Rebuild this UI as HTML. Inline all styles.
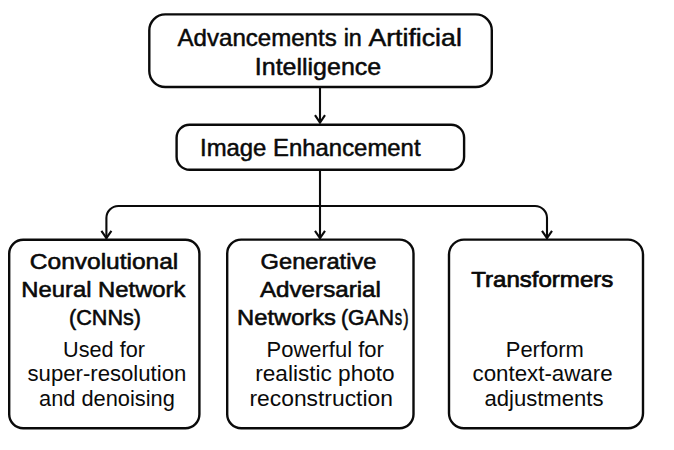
<!DOCTYPE html>
<html><head><meta charset="utf-8"><style>
html,body{margin:0;padding:0;background:#fff;width:674px;height:450px;overflow:hidden}
svg{display:block;position:absolute;left:0;top:0}
</style></head><body>
<svg width="674" height="450" viewBox="0 0 674 450">
<rect width="674" height="450" fill="#fff"/>
<g fill="none" stroke="#0a0a0a" stroke-width="2.4">
<rect x="149.3" y="14.4" width="342.5" height="72.6" rx="16"/>
<rect x="176.6" y="124.7" width="287.5" height="45.1" rx="13"/>
<rect x="9.2" y="239.8" width="190.2" height="188.4" rx="14"/>
<rect x="227.2" y="239.6" width="186.3" height="188.6" rx="14"/>
<rect x="449.0" y="239.6" width="194.0" height="188.6" rx="15"/>
</g>
<g fill="none" stroke="#0a0a0a" stroke-width="2.1" stroke-linecap="butt" stroke-linejoin="miter">
<path d="M320 87.5 V123"/>
<path d="M315 115.2 L320 122.6 L325 115.2"/>
<path d="M320 170.5 V238.5"/>
<path d="M315 230.8 L320 238.2 L325 230.8"/>
<path d="M106.4 238.5 V218 A12 12 0 0 1 118.4 206 H535 A12 12 0 0 1 547 218 V238.5"/>
<path d="M101.4 230.8 L106.4 238.2 L111.4 230.8"/>
<path d="M542 230.8 L547 238.2 L552 230.8"/>
</g>
<g font-family="Liberation Sans, sans-serif" fill="#0a0a0a" stroke="#0a0a0a" stroke-linejoin="round">
<text transform="translate(177.55 45.90) scale(1.0195 1)" font-size="23.6" stroke-width="0.5">Advancements</text>
<text transform="translate(343.66 45.90) scale(0.9915 1)" font-size="23.6" stroke-width="0.5">in</text>
<text transform="translate(368.38 45.90) scale(1.1314 1)" font-size="23.6" stroke-width="0.5">Artificial</text>
<text transform="translate(254.85 75.00) scale(1.0583 1)" font-size="23.6" stroke-width="0.5">Intelligence</text>
<text transform="translate(199.99 156.20) scale(1.0349 1)" font-size="23.1" stroke-width="0.5">Image Enhancement</text>
<text transform="translate(29.85 269.20) scale(1.0755 1)" font-size="22.8" stroke-width="0.6">Convolutional</text>
<text transform="translate(21.27 296.90) scale(1.0452 1)" font-size="22.8" stroke-width="0.6">Neural Network</text>
<text transform="translate(69.04 325.20) scale(0.9483 1)" font-size="22.8" stroke-width="0.6">(CNNs)</text>
<text transform="translate(63.03 356.70) scale(0.9721 1)" font-size="22.3" stroke-width="0.0">Used for</text>
<text transform="translate(27.50 381.40) scale(0.9938 1)" font-size="22.3" stroke-width="0.0">super-resolution</text>
<text transform="translate(39.00 405.90) scale(0.9792 1)" font-size="22.3" stroke-width="0.0">and denoising</text>
<text transform="translate(260.62 269.00) scale(1.0386 1)" font-size="22.8" stroke-width="0.6">Generative</text>
<text transform="translate(259.92 297.20) scale(1.0620 1)" font-size="22.8" stroke-width="0.6">Adversarial</text>
<text transform="translate(237.07 325.00) scale(1.0413 1)" font-size="22.8" stroke-width="0.6">Networks</text>
<text transform="translate(340.95 325.00) scale(0.9305 1)" font-size="22.8" stroke-width="0.6">(GAN</text>
<text transform="translate(394.69 325.00) scale(0.6466 1)" font-size="22.8" stroke-width="0.6">s</text>
<text transform="translate(403.21 325.00) scale(0.7105 1)" font-size="22.8" stroke-width="0.6">)</text>
<text transform="translate(266.51 356.70) scale(0.9870 1)" font-size="22.3" stroke-width="0.0">Powerful for</text>
<text transform="translate(255.24 381.40) scale(1.0134 1)" font-size="22.3" stroke-width="0.0">realistic photo</text>
<text transform="translate(249.48 405.90) scale(1.0244 1)" font-size="22.3" stroke-width="0.0">reconstruction</text>
<text transform="translate(471.25 287.00) scale(1.0552 1)" font-size="22.8" stroke-width="0.75">Transformers</text>
<text transform="translate(505.77 356.70) scale(0.9843 1)" font-size="22.3" stroke-width="0.0">Perform</text>
<text transform="translate(472.50 381.40) scale(1.0011 1)" font-size="22.3" stroke-width="0.0">context-aware</text>
<text transform="translate(484.40 405.90) scale(0.9911 1)" font-size="22.3" stroke-width="0.0">adjustments</text>
</g>
</svg>
</body></html>
